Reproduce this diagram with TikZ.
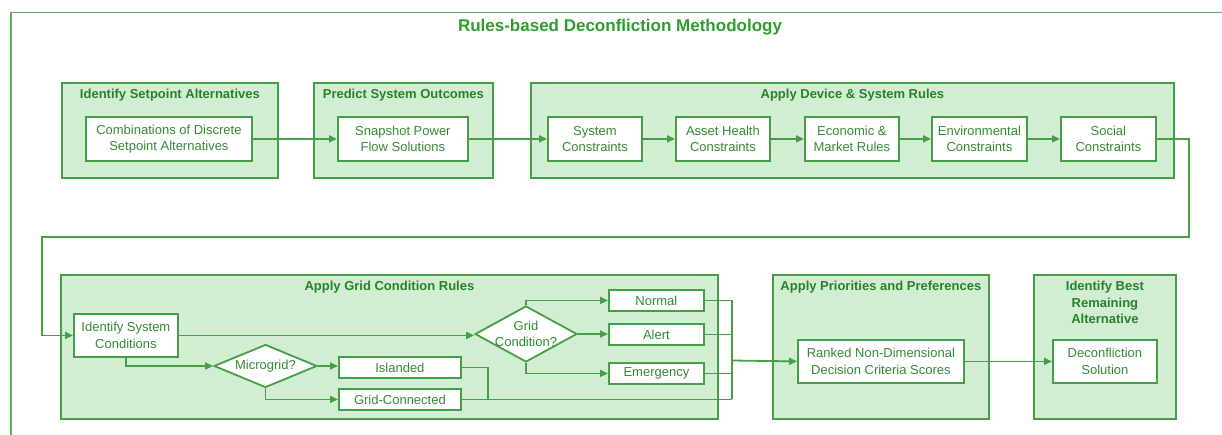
\documentclass[tikz,border=0pt]{standalone}
\usepackage{fontspec}
\setmainfont{Liberation Sans}
\usetikzlibrary{arrows.meta,shapes.geometric}
\definecolor{gline}{RGB}{70,158,70}
\definecolor{gfill}{RGB}{210,238,210}
\definecolor{gtitle}{RGB}{44,158,44}
\definecolor{ghead}{RGB}{42,128,42}
\definecolor{gtext}{RGB}{52,138,52}
\definecolor{gframe}{RGB}{95,170,95}
\begin{document}
\begin{tikzpicture}[x=1pt,y=-1pt,
  grp/.style={draw=gline,fill=gfill,line width=1.8pt,inner sep=0pt,anchor=north west},
  box/.style={draw=gline,fill=white,line width=1.8pt,inner sep=0pt,anchor=north west,align=center,
    text=gtext,font=\fontsize{13}{16.3}\selectfont},
  dia/.style={draw=gline,fill=white,line width=1.8pt,diamond,inner sep=0pt},
  btxt/.style={text=gtext,font=\fontsize{13}{16.3}\selectfont,align=center,inner sep=0pt},
  ghd/.style={text=ghead,font=\bfseries\fontsize{13}{16.5}\selectfont,align=center,inner sep=0pt,anchor=north},
  conn/.style={draw=gline,line width=1.8pt},
  arr/.style={conn,-{Triangle[length=8pt,width=7pt]}}]
\useasboundingbox (0,0) rectangle (1222,434);
% outer frame
\draw[draw=gframe,line width=1.6pt] (10.7,470) -- (10.7,12.3) -- (1240,12.3);
\node[text=gtitle,font=\bfseries\fontsize{17}{20}\selectfont,inner sep=0pt] (title) at (620,27) {Rules-based Deconfliction Methodology};
% groups
\node[grp,minimum width=216pt,minimum height=95pt] (g1) at (61,82) {};
\node[grp,minimum width=179pt,minimum height=95pt] (g2) at (313,82) {};
\node[grp,minimum width=643pt,minimum height=95pt] (g3) at (530,82) {};
\node[grp,minimum width=657pt,minimum height=144pt] (g4) at (60,274) {};
\node[grp,minimum width=216pt,minimum height=144pt] (g5) at (772,274) {};
\node[grp,minimum width=142pt,minimum height=144pt] (g6) at (1033,274) {};
\node[ghd] (t1) at ([yshift=-7pt]g1.north) {Identify Setpoint Alternatives};
\node[ghd] (t2) at ([yshift=-7pt]g2.north) {Predict System Outcomes};
\node[ghd] (t3) at ([yshift=-7pt]g3.north) {Apply Device \& System Rules};
\node[ghd] (t4) at ([yshift=-7pt]g4.north) {Apply Grid Condition Rules};
\node[ghd] (t5) at ([yshift=-7pt]g5.north) {Apply Priorities and Preferences};
\node[ghd] (t6) at ([yshift=-7pt]g6.north) {Identify Best\\Remaining\\Alternative};
% top row boxes
\node[box,minimum width=166pt,minimum height=44pt] (c1) at (85,116) {Combinations of Discrete\\Setpoint Alternatives};
\node[box,minimum width=130pt,minimum height=44pt] (c2) at (337,116) {Snapshot Power\\Flow Solutions};
\node[box,minimum width=94pt,minimum height=44pt] (s1) at (547,116) {System\\Constraints};
\node[box,minimum width=94pt,minimum height=44pt] (s2) at (675,116) {Asset Health\\Constraints};
\node[box,minimum width=94pt,minimum height=44pt] (s3) at (804,116) {Economic \&\\Market Rules};
\node[box,minimum width=95pt,minimum height=44pt] (s4) at (931,116) {Environmental\\Constraints};
\node[box,minimum width=95pt,minimum height=44pt] (s5) at (1060,116) {Social\\Constraints};
% bottom row
\node[box,minimum width=104pt,minimum height=43pt] (isc) at (73,313) {Identify System\\Conditions};
\node[dia,minimum width=103pt,minimum height=43pt] (mg) at (265.5,366) {};
\node[btxt] (mgt) at (mg.center) {Microgrid?};
\node[box,minimum width=122pt,minimum height=21pt] (isl) at (338,356) {Islanded};
\node[box,minimum width=122pt,minimum height=21pt] (gcn) at (338,388) {Grid-Connected};
\node[dia,minimum width=102pt,minimum height=56pt] (gc) at (526,334) {};
\node[btxt] (gct) at (gc.center) {Grid\\Condition?};
\node[box,minimum width=95pt,minimum height=21pt] (nor) at (608,289) {Normal};
\node[box,minimum width=95pt,minimum height=21pt] (ale) at (608,323) {Alert};
\node[box,minimum width=95pt,minimum height=21pt] (eme) at (608,362) {Emergency};
\node[box,minimum width=166pt,minimum height=43pt] (rnk) at (797,339) {Ranked Non-Dimensional\\Decision Criteria Scores};
\node[box,minimum width=104pt,minimum height=43pt] (dec) at (1052,339) {Deconfliction\\Solution};
% connectors top
\draw[arr] (c1.east) -- (c2.west);
\draw[arr] (c2.east) -- (s1.west);
\draw[arr] (s1.east) -- (s2.west);
\draw[arr] (s2.east) -- (s3.west);
\draw[arr] (s3.east) -- (s4.west);
\draw[arr] (s4.east) -- (s5.west);
\coordinate (k1) at (1189,237);
\coordinate (k2) at (42,237);
\draw[arr] (s5.east) -| (k1) -- (k2) |- (isc.west);
% grid condition
\draw[arr] (isc.east) -- (isc.east -| gc.west);
\draw[arr] (isc.south) |- (mg.west);
\draw[arr] (mg.east) -- (mg.east -| isl.west);
\draw[arr] (mg.south) |- (gcn.west);
\draw[arr] (gc.north) |- (nor.west);
\draw[arr] (gc.east) -- (gc.east -| ale.west);
\draw[arr] (gc.south) |- (eme.west);
% merge
\coordinate (mx) at (732,360.5);
\coordinate (ix) at (488,366.5);
\draw[conn] (nor.east) -- (mx |- nor.east) -- (mx |- gcn.east);
\draw[conn] (ale.east) -- (mx |- ale.east);
\draw[conn] (eme.east) -- (mx |- eme.east);
\draw[conn] (isl.east) -- (ix |- isl.east) -- (ix |- gcn.east);
\draw[conn] (gcn.east) -- (mx |- gcn.east);
\draw[arr] (mx) -- (rnk.west);
\draw[arr] (rnk.east) -- (dec.west);
\end{tikzpicture}
\end{document}
